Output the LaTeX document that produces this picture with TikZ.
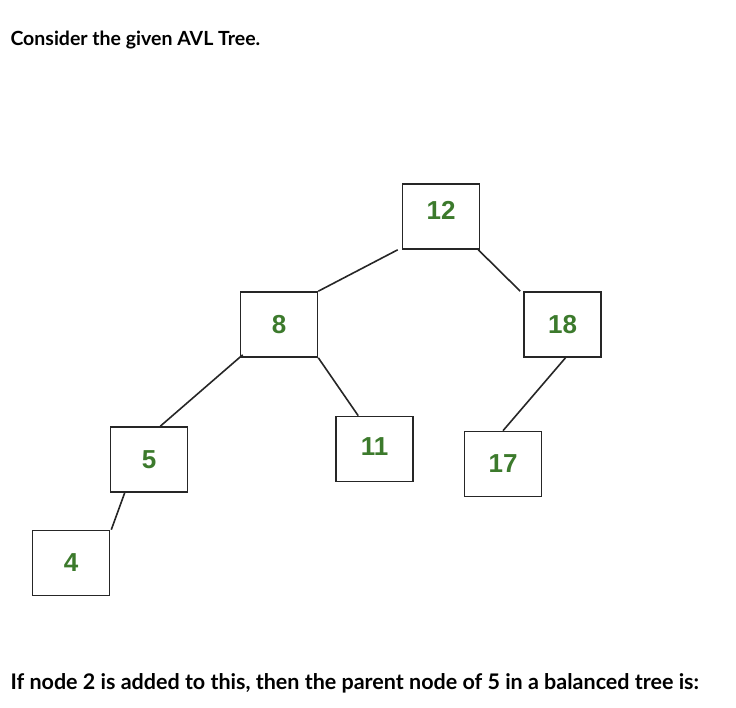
\documentclass[tikz,border=0pt]{standalone}
\usepackage{fontspec}
\setmainfont{Lato}
\newfontfamily\numfont{Liberation Sans}
\definecolor{numgreen}{HTML}{3C7A2C}
\begin{document}
\begin{tikzpicture}[x=1pt,y=-1pt,
  box/.style={draw=black!85,line width=1.6pt,minimum width=77pt,minimum height=65pt,inner sep=0pt,font=\numfont\bfseries\fontsize{26}{30}\selectfont,text=numgreen},
  edge/.style={line width=1.6pt,black!85}]
\useasboundingbox (0,0) rectangle (736,708);
\node[anchor=base west,font=\fontsize{19.5}{22}\selectfont\bfseries] (t1) at (7,46) {Consider the given AVL Tree.};
\node[anchor=base west,font=\fontsize{21.5}{24}\selectfont\bfseries] (t2) at (7,689) {If node 2 is added to this, then the parent node of 5 in a balanced tree is:};
\node[box] (n12) at (441,216.5) {\raisebox{12pt}{12}};
\node[box] (n8) at (279,324.5) {\raisebox{0pt}{8}};
\node[box] (n18) at (562.5,324.5) {\raisebox{0pt}{18}};
\node[box] (n5) at (149,459.5) {5};
\node[box] (n11) at (374.5,449) {\raisebox{4pt}{11}};
\node[box] (n17) at (503,464) {17};
\node[box] (n4) at (71,563) {4};
\draw[edge] ([xshift=-4pt]n12.south west) -- (n8.north east);
\draw[edge] ([xshift=-2pt]n12.south east) -- ([xshift=-3pt]n18.north west);
\draw[edge] ([xshift=3pt,yshift=3pt]n8.south west) -- ([xshift=-28pt]n5.north east);
\draw[edge] (n8.south east) -- ([xshift=23pt]n11.north west);
\draw[edge] ([xshift=3pt]n18.south) -- (n17.north);
\draw[edge] ([xshift=15pt]n5.south west) -- ([xshift=1pt]n4.north east);
\end{tikzpicture}
\end{document}
